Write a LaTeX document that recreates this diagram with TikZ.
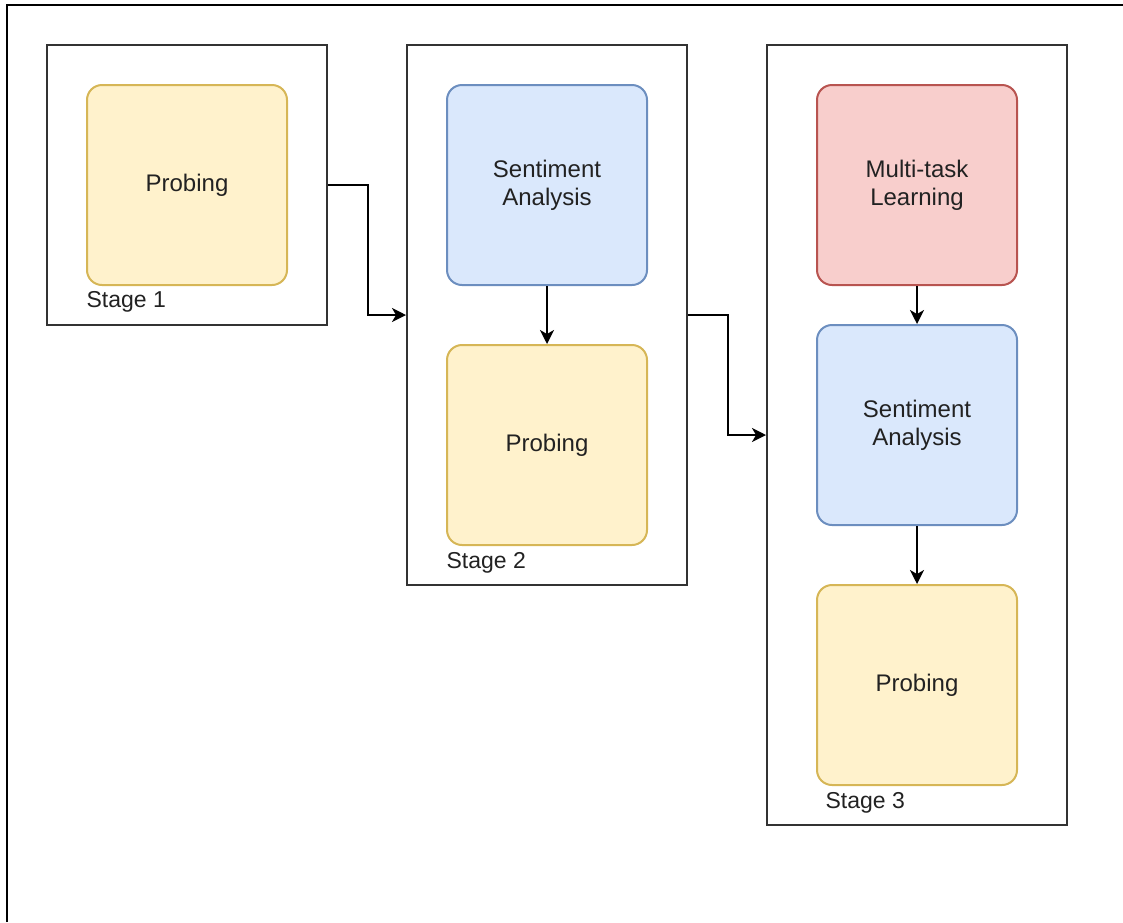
\documentclass[tikz,border=0pt]{standalone}
\usepackage{fontspec}
\setmainfont{Liberation Sans}
\usetikzlibrary{arrows.meta}
\definecolor{yelfill}{HTML}{FFF2CC}
\definecolor{yeldraw}{HTML}{D6B656}
\definecolor{bluefill}{HTML}{DAE8FC}
\definecolor{bluedraw}{HTML}{6C8EBF}
\definecolor{redfill}{HTML}{F8CECC}
\definecolor{reddraw}{HTML}{B85450}
\definecolor{txt}{HTML}{222222}
\begin{document}
\begin{tikzpicture}[x=1pt,y=-1pt,
    task/.style={rounded corners=15pt,line width=2pt,minimum width=200pt,minimum height=200pt,
      align=center,text=txt,font=\fontsize{24}{28}\selectfont},
    probe/.style={task,fill=yelfill,draw=yeldraw},
    senti/.style={task,fill=bluefill,draw=bluedraw},
    multi/.style={task,fill=redfill,draw=reddraw},
    stagebox/.style={draw=black!80,line width=2pt,inner sep=0pt},
    stagelab/.style={anchor=west,text=txt,font=\fontsize{23}{27}\selectfont},
    arr/.style={line width=2pt,-{Stealth[length=14pt,width=14pt,inset=4pt]}}]
      \useasboundingbox (0,0) rectangle (1123,922);
      % outer frame
      \draw[line width=2pt] (7,922) -- (7,5) -- (1123,5);
      % stage boxes
      \node[stagebox,minimum width=280pt,minimum height=280pt] (stage1) at (187,185) {};
      \node[stagebox,minimum width=280pt,minimum height=540pt] (stage2) at (547,315) {};
      \node[stagebox,minimum width=300pt,minimum height=780pt] (stage3) at (917,435) {};
      % tasks
      \node[probe] (prob1) at (187,185) {\raisebox{2pt}{Probing}};
      \node[senti] (sent2) at (547,185) {Sentiment\\Analysis};
      \node[probe] (prob2) at (547,445) {\raisebox{2pt}{Probing}};
      \node[multi] (mtl3) at (917,185) {Multi-task\\Learning};
      \node[senti] (sent3) at (917,425) {Sentiment\\Analysis};
      \node[probe] (prob3) at (917,685) {\raisebox{2pt}{Probing}};
      \node[stagelab] (lab1) at (83,302) {Stage 1};
      \node[stagelab] (lab2) at (443,563) {Stage 2};
      \node[stagelab] (lab3) at (822,803) {Stage 3};
      % arrows
      \draw[arr] (stage1.east) -- ++(40,0) |- (stage2.west);
      \draw[arr] (stage2.east) -- ++(40,0) |- (stage3.west);
      \draw[arr] (sent2) -- (prob2);
      \draw[arr] (mtl3) -- (sent3);
      \draw[arr] (sent3) -- (prob3);
\end{tikzpicture}
\end{document}
